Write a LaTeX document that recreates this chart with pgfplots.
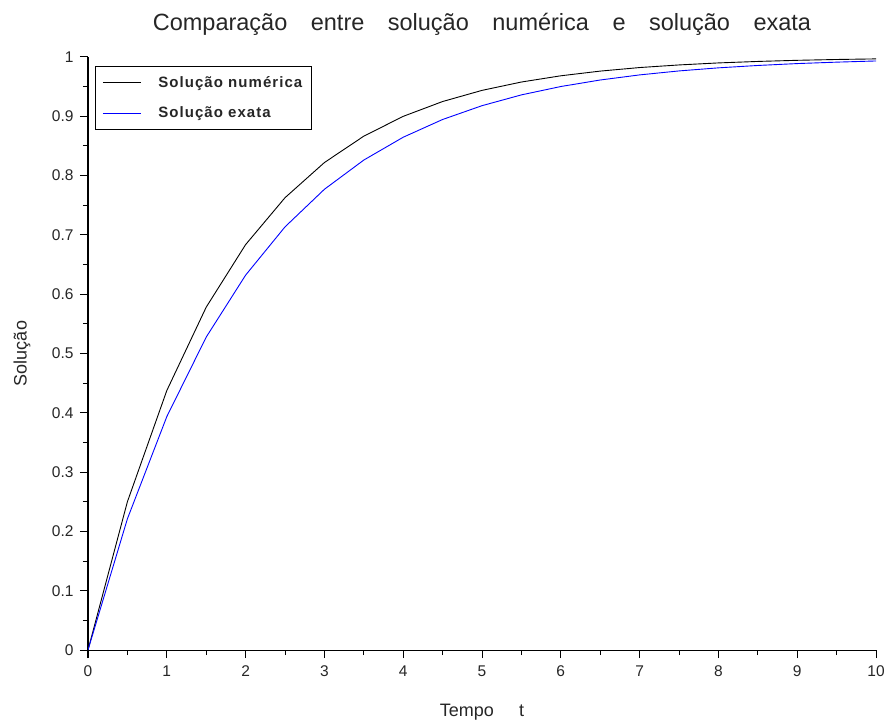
\documentclass[border=0pt]{standalone}
\usepackage{fontspec}
\setmainfont{Liberation Sans}
\usepackage{pgfplots}
\pgfplotsset{compat=1.18}

\begin{document}
\begin{tikzpicture}
\useasboundingbox (-88pt,-75pt) rectangle (800pt,650pt);
\begin{axis}[
    at={(0,0)}, anchor=south west,
    scale only axis,
    width=788pt, height=593pt,
    xmin=0, xmax=10, ymin=0, ymax=1,
    axis x line=bottom, axis y line=left,
    axis line style={-, line width=1pt},
    tick align=outside,
    xtick={0,1,...,10},
    ytick={0,0.1,...,1},
    minor tick num=1,
    major tick length=8pt, minor tick length=5pt,
    every tick/.style={black, line width=1pt},
    /pgf/number format/assume math mode=true,
    tick label style={font=\fontsize{15.5}{17}\selectfont, text=black!85},
    xticklabel style={yshift=-4pt},
    yticklabel style={xshift=-3pt},
    title={Comparação\hspace{1em}entre\hspace{1em}solução\hspace{1em}numérica\hspace{1em}e\hspace{1em}solução\hspace{1em}exata},
    title style={font=\fontsize{23.5}{26}\selectfont, text=black!85, at={(axis description cs:0.5,1)}, anchor=center, yshift=27pt},
    xlabel={Tempo\hspace{1.4em}t},
    xlabel style={font=\fontsize{18}{20}\selectfont, text=black!85, at={(axis description cs:0.5,-0.1046)}, anchor=center},
    ylabel={Solução},
    ylabel style={font=\fontsize{18}{20}\selectfont, text=black!85, at={(axis description cs:-0.0838,0.5)}, anchor=center},
    legend style={at={(0,1)}, anchor=north west, xshift=7pt, yshift=-9pt,
        font=\bfseries\fontsize{15}{17}\selectfont\addfontfeatures{LetterSpace=7},
        text=black!85, draw=black, line width=0.8pt,
        inner xsep=7pt, inner ysep=8pt, row sep=14pt},
    legend cell align=left,
    legend image code/.code={\draw[#1, line width=1pt] (0pt,0pt) -- (38pt,0pt); \path (53pt,0pt);},
]
\addplot[black, line width=0.9pt] coordinates {
(0,0) (0.5,0.25) (1,0.4375) (1.5,0.5781) (2,0.6836) (2.5,0.7627) (3,0.8220)
(3.5,0.8665) (4,0.8999) (4.5,0.9249) (5,0.9437) (5.5,0.9578) (6,0.9683)
(6.5,0.9762) (7,0.9822) (7.5,0.9866) (8,0.9900) (8.5,0.9925) (9,0.9944)
(9.5,0.9958) (10,0.9968)
};
\addlegendentry{Solução numérica}
\addplot[blue, line width=0.9pt] coordinates {
(0,0) (0.5,0.2212) (1,0.3935) (1.5,0.5276) (2,0.6321) (2.5,0.7135) (3,0.7769)
(3.5,0.8262) (4,0.8647) (4.5,0.8946) (5,0.9179) (5.5,0.9361) (6,0.9502)
(6.5,0.9612) (7,0.9698) (7.5,0.9765) (8,0.9817) (8.5,0.9857) (9,0.9889)
(9.5,0.9913) (10,0.9933)
};
\addlegendentry{Solução exata}
\end{axis}
\end{tikzpicture}
\end{document}
